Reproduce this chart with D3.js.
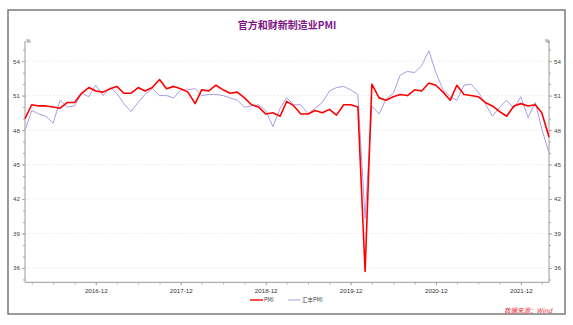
<!DOCTYPE html>
<html><head><meta charset="utf-8">
<script src="https://cdn.jsdelivr.net/npm/d3@7"></script>
<style>body{margin:0;background:#fff;}svg{display:block;}</style>
</head><body>
<svg id="c" width="573" height="325"></svg>
<script>
const months = [
"2016-02","2016-03","2016-04","2016-05","2016-06","2016-07","2016-08","2016-09","2016-10","2016-11","2016-12",
"2017-01","2017-02","2017-03","2017-04","2017-05","2017-06","2017-07","2017-08","2017-09","2017-10","2017-11","2017-12",
"2018-01","2018-02","2018-03","2018-04","2018-05","2018-06","2018-07","2018-08","2018-09","2018-10","2018-11","2018-12",
"2019-01","2019-02","2019-03","2019-04","2019-05","2019-06","2019-07","2019-08","2019-09","2019-10","2019-11","2019-12",
"2020-01","2020-02","2020-03","2020-04","2020-05","2020-06","2020-07","2020-08","2020-09","2020-10","2020-11","2020-12",
"2021-01","2021-02","2021-03","2021-04","2021-05","2021-06","2021-07","2021-08","2021-09","2021-10","2021-11","2021-12",
"2022-01","2022-02","2022-03","2022-04"];
const officialPMI = [
49.0,50.2,50.1,50.1,50.0,49.9,50.4,50.4,51.2,51.7,51.4,
51.3,51.6,51.8,51.2,51.2,51.7,51.4,51.7,52.4,51.6,51.8,51.6,
51.3,50.3,51.5,51.4,51.9,51.5,51.2,51.3,50.8,50.2,50.0,49.4,
49.5,49.2,50.5,50.1,49.4,49.4,49.7,49.5,49.8,49.3,50.2,50.2,
50.0,35.7,52.0,50.8,50.6,50.9,51.1,51.0,51.5,51.4,52.1,51.9,
51.3,50.6,51.9,51.1,51.0,50.9,50.4,50.1,49.6,49.2,50.1,50.3,
50.1,50.2,49.5,47.4];
const caixinPMI = [
48.0,49.7,49.4,49.2,48.6,50.6,50.0,50.1,51.2,50.9,51.9,
51.0,51.7,51.2,50.3,49.6,50.4,51.1,51.6,51.0,51.0,50.8,51.5,
51.5,51.6,51.0,51.1,51.1,51.0,50.8,50.6,50.0,50.1,50.2,49.7,
48.3,49.9,50.8,50.2,50.2,49.4,49.9,50.4,51.4,51.7,51.8,51.5,
51.1,40.3,50.1,49.4,50.7,51.2,52.8,53.1,53.0,53.6,54.9,53.0,
51.5,50.9,50.6,51.9,52.0,51.3,50.3,49.2,50.0,50.6,49.9,50.9,
49.1,50.4,48.1,46.0];
const yTicks = [36,39,42,45,48,51,54];
const xLabels = ["2016-12","2017-12","2018-12","2019-12","2020-12","2021-12"];
const seriesNames = ["PMI","汇丰PMI"];
const titleText = "官方和财新制造业PMI";
const sourceText = "数据来源：Wind";

const svg = d3.select("#c");
const parse = d3.timeParse("%Y-%m");
const L = 25, R = 549, T = 41, B = 282.3;
const x = d3.scaleTime().domain([parse(months[0]), parse(months[months.length-1])]).range([L, R]);
const y = d3.scaleLinear().domain([34.75, 55.75]).range([B, T]);
const numFont = "'Liberation Sans', Arial, sans-serif";
const cjkFont = "'Noto Sans CJK SC', sans-serif";

// frame
svg.append("rect").attr("x",8).attr("y",10).attr("width",557).attr("height",304)
  .attr("fill","none").attr("stroke","#7a7a7a").attr("stroke-width",1.5);

// title
svg.append("text").attr("x",287).attr("y",29).attr("text-anchor","middle")
  .attr("font-family",cjkFont).attr("font-weight","bold").attr("font-size",10)
  .attr("fill","#7e1486").text(titleText);

// gridlines
svg.append("g").selectAll("line").data(yTicks).join("line")
  .attr("x1",L).attr("x2",R).attr("y1",d=>y(d)).attr("y2",d=>y(d))
  .attr("stroke","#e2e2e2").attr("stroke-width",0.7).attr("stroke-dasharray","1.5,2");

// left axis
const minorVals = d3.range(35,56);
const gl = svg.append("g").attr("transform",`translate(${L},0)`);
gl.call(d3.axisLeft(y).tickValues(minorVals).tickSize(2).tickFormat(""));
gl.call(g=>g.select(".domain").remove());
gl.append("line").attr("x1",0).attr("x2",0).attr("y1",T).attr("y2",B).attr("stroke","#9a9a9a");
gl.selectAll(".tick line").attr("stroke","#aaa");
const glab = svg.append("g").attr("transform",`translate(${L},0)`);
glab.call(d3.axisLeft(y).tickValues(yTicks).tickSize(3).tickPadding(2).tickFormat(d3.format("d")));
glab.select(".domain").remove();
glab.selectAll(".tick line").attr("stroke","#aaa");
glab.selectAll("text").attr("font-family",numFont).attr("font-size",6.2).attr("fill","#444");

// right axis
const gr = svg.append("g").attr("transform",`translate(${R},0)`);
gr.call(d3.axisRight(y).tickValues(minorVals).tickSize(2).tickFormat(""));
gr.select(".domain").remove();
gr.append("line").attr("x1",0).attr("x2",0).attr("y1",T).attr("y2",B).attr("stroke","#9a9a9a");
gr.selectAll(".tick line").attr("stroke","#aaa");
const grl = svg.append("g").attr("transform",`translate(${R},0)`);
grl.call(d3.axisRight(y).tickValues(yTicks).tickSize(3).tickPadding(2).tickFormat(d3.format("d")));
grl.select(".domain").remove();
grl.selectAll(".tick line").attr("stroke","#aaa");
grl.selectAll("text").attr("font-family",numFont).attr("font-size",6.2).attr("fill","#444");

// % markers
svg.append("text").attr("x",L+1).attr("y",T+2).attr("font-family",numFont).attr("font-size",5).attr("fill","#555").text("%");
svg.append("text").attr("x",R-4).attr("y",T+2).attr("font-family",numFont).attr("font-size",5).attr("fill","#555").text("%");

// x axis
const quarterTicks = d3.timeMonth.range(parse("2016-03"), d3.timeMonth.offset(parse(months[months.length-1]),1), 3);
const gx = svg.append("g").attr("transform",`translate(0,${B})`);
gx.call(d3.axisBottom(x).tickValues(quarterTicks).tickSize(2).tickFormat(""));
gx.select(".domain").remove();
gx.append("line").attr("x1",L).attr("x2",R).attr("stroke","#9a9a9a");
gx.selectAll(".tick line").attr("stroke","#aaa");
const gxl = svg.append("g").attr("transform",`translate(0,${B})`);
gxl.call(d3.axisBottom(x).tickValues(xLabels.map(parse)).tickSize(3).tickPadding(3).tickFormat(d3.timeFormat("%Y-%m")));
gxl.select(".domain").remove();
gxl.selectAll(".tick line").attr("stroke","#aaa");
gxl.selectAll("text").attr("font-family",numFont).attr("font-size",6.2).attr("fill","#333");

// lines
const line = d3.line().x((d,i)=>x(parse(months[i]))).y(d=>y(d));
svg.append("path").datum(caixinPMI).attr("d",line).attr("fill","none")
  .attr("stroke","#ab9ce6").attr("stroke-width",1).attr("stroke-linejoin","round");
svg.append("path").datum(officialPMI).attr("d",line).attr("fill","none")
  .attr("stroke","#ff0000").attr("stroke-width",1.6).attr("stroke-linejoin","round");

// legend
const lg = svg.append("g");
lg.append("line").attr("x1",250).attr("x2",263).attr("y1",300).attr("y2",300).attr("stroke","#ff2020").attr("stroke-width",1.6);
lg.append("text").attr("x",264).attr("y",302).attr("font-family",cjkFont).attr("font-size",5.5).attr("fill","#444").text(seriesNames[0]);
lg.append("line").attr("x1",288).attr("x2",300.5).attr("y1",300).attr("y2",300).attr("stroke","#d6d0f0").attr("stroke-width",2);
lg.append("text").attr("x",302).attr("y",302).attr("font-family",cjkFont).attr("font-size",5.5).attr("fill","#444").text(seriesNames[1]);

// source
svg.append("text").attr("x",552).attr("y",312.5).attr("text-anchor","end")
  .attr("font-family",cjkFont).attr("font-style","italic").attr("font-size",6.5)
  .attr("fill","#e8323c").text(sourceText);
</script>
</body></html>
